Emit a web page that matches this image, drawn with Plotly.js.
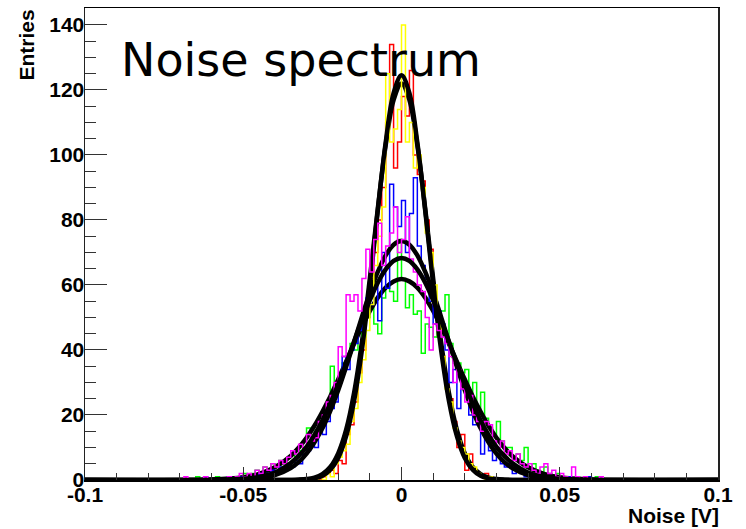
<!DOCTYPE html>
<html>
<head>
<meta charset="utf-8">
<script src="https://cdn.plot.ly/plotly-3.0.1.min.js"></script>
<style>html,body{margin:0;padding:0;background:#fff;}#chart{width:746px;height:529px;}</style>
</head>
<body>
<div id="chart"></div>
<script>
// ---- data ----
const BIN = 0.00125;
const narrowStart = -0.03;   // first bin edge of the narrow (red, yellow) histograms
const wideStart = -0.07;     // first bin edge of the wide (green, blue, magenta) histograms

const redCounts = [0,0,1,0,1,2,3,2,6,5,14,17,24,33,40,50,62,70,80,90,110,134,96,104,
  118,112,126,100,94,92,80,71,52,44,38,30,25,18,10,14,3,8,3,2,1,2,1,0];
const yellowCounts = [0,0,0,1,0,2,1,5,7,9,11,18,22,30,37,46,54,66,75,84,125,104,108,114,
  140,104,110,96,100,90,76,70,60,48,38,28,24,16,12,10,8,5,4,2,1,0,1,0];
const blueCounts = [0,0,0,0,0,0,1,0, 0,0,0,0,1,0,0,1, 0,0,1,0,2,1,2,3, 2,4,3,5,4,6,5,8,
  9,11,10,15,14,18,22,24, 30,38,34,40,42,46,50,56, 54,60,49,70,59,91,84,78,
  86,70,82,93,72,66,62,55, 48,52,48,40,30,34,22,28, 26,20,17,18,8,13,9,6,
  8,5,4,5,2,4,2,1, 2,1,0,1,0,1,0,0, 0,0,1,0,0,0,0,1, 0,0,0,0,0,0,0,0];
const magentaCounts = [0,1,0,0,0,0,1,0, 0,0,0,0,1,0,1,2, 1,2,1,3,2,4,3,5, 4,6,5,7,9,8,11,10,
  14,12,13,18,20,24,26,30, 41,38,57,55,57,52,62,71, 64,74,79,66,72,76,84,70,
  74,81,68,64,60,58,50,40, 48,46,44,42,38,30,34,28, 24,26,20,18,15,18,17,12,
  10,12,8,9,6,8,5,4, 5,3,2,4,5,2,3,1, 2,1,0,4,1,0,1,0, 0,0,1,0,0,0,0,0];
const greenCounts = [0,0,0,0,1,0,0,0, 0,1,0,0,0,1,0,1, 2,1,2,3,2,4,3,5, 4,6,5,7,8,7,9,12,
  16,13,15,19,18,24,35,28, 31,36,38,42,40,47,44,50, 53,48,45,56,60,58,55,74,
  62,53,57,51,52,39,48,47, 44,49,52,57,42,36,36,33, 34,26,30,22,27,19,16,14,
  18,12,10,10,7,8,6,10, 4,5,3,2,4,2,1,2, 1,0,1,0,1,0,0,0, 0,1,0,0,0,0,0,0];

const fitX = [-0.1,-0.06,-0.05,-0.045,-0.04,-0.035,-0.0325,-0.03,-0.0275,-0.025,-0.0225,-0.02,-0.0175,-0.015,-0.0125,-0.01,-0.0075,-0.005,-0.0025,
  0,0.0025,0.005,0.0075,0.01,0.0125,0.015,0.0175,0.02,0.0225,0.025,0.0275,0.03,0.0325,0.035,0.04,0.045,0.05,0.06,0.1];
const fitRed = [0,0,0,0,0,0.03,0.10,0.28,0.73,1.8,4.0,8.2,15.4,26.7,42.4,62.0,83.4,103.0,116.9,
  122,116.9,103.0,83.4,62.0,42.4,26.7,15.4,8.2,4.0,1.8,0.73,0.28,0.10,0.03,0,0,0,0,0];
const fitYellow = [0,0,0,0,0,0.02,0.06,0.18,0.51,1.3,3.2,6.8,13.5,24.3,40.1,60.2,82.8,103.8,119.0,
  124.5,119.0,103.8,82.8,60.2,40.1,24.3,13.5,6.8,3.2,1.3,0.51,0.18,0.06,0.02,0,0,0,0,0];
const fitBlue = [0,0.01,0.16,0.52,1.5,3.7,5.5,8.1,11.6,15.9,21.3,27.6,34.8,42.4,50.2,57.6,64.0,69.1,72.4,
  73.5,72.4,69.1,64.0,57.6,50.2,42.4,34.8,27.6,21.3,15.9,11.6,8.1,5.5,3.7,1.5,0.52,0.16,0.01,0];
const fitMagenta = [0,0.03,0.35,0.96,2.3,5.2,7.4,10.2,13.9,18.3,23.5,29.4,35.8,42.5,49.1,55.3,60.7,64.8,67.4,
  68.3,67.4,64.8,60.7,55.3,49.1,42.5,35.8,29.4,23.5,18.3,13.9,10.2,7.4,5.2,2.3,0.96,0.35,0.03,0];
const fitGreen = [0,0.12,0.82,1.9,3.9,7.4,9.9,13.0,16.7,21.0,25.7,30.9,36.4,41.9,47.2,52.0,56.1,59.2,61.1,
  61.8,61.1,59.2,56.1,52.0,47.2,41.9,36.4,30.9,25.7,21.0,16.7,13.0,9.9,7.4,3.9,1.9,0.82,0.12,0];

const xTickVals = [-0.1,-0.05,0,0.05,0.1];
const xTickText = ['-0.1','-0.05','0','0.05','0.1'];
const yTickVals = [0,20,40,60,80,100,120,140];
const yTickText = ['0','20','40','60','80','100','120','140'];

// ---- build histogram step traces ----
function histTrace(counts, start, color){
  const xs = [-0.1], ys = [0];
  for (let i = 0; i < counts.length; i++){ xs.push(start + i*BIN); ys.push(counts[i]); }
  xs.push(start + counts.length*BIN); ys.push(0);
  xs.push(0.1); ys.push(0);
  return {x: xs, y: ys, type:'scatter', mode:'lines', line:{shape:'hv', color: color, width: 1.5}, hoverinfo:'skip'};
}
function fitTrace(vals){
  return {x: fitX, y: vals, type:'scatter', mode:'lines', line:{shape:'spline', color:'black', width:4.5}, hoverinfo:'skip'};
}

const traces = [
  histTrace(redCounts, narrowStart, '#ff0000'), fitTrace(fitRed),
  histTrace(greenCounts, wideStart, '#00ff00'), fitTrace(fitGreen),
  histTrace(blueCounts, wideStart, '#0000ff'), fitTrace(fitBlue),
  histTrace(yellowCounts, narrowStart, '#ffff00'), fitTrace(fitYellow),
  histTrace(magentaCounts, wideStart, '#ff00ff'), fitTrace(fitMagenta)
];

const tickFont = {family:'Liberation Sans, Arial, sans-serif', size:21, color:'black', weight:'bold'};
const layout = {
  width:746, height:529,
  margin:{l:85, r:28, t:8, b:49},
  paper_bgcolor:'white', plot_bgcolor:'white',
  showlegend:false,
  font:{family:'Liberation Sans, Arial, sans-serif', color:'black'},
  xaxis:{range:[-0.1,0.1], tickmode:'array', tickvals:xTickVals, ticktext:xTickText,
    ticks:'inside', ticklen:13, tickwidth:1, tickcolor:'#333',
    showgrid:false, zeroline:false, showline:true, mirror:true, linecolor:'black', linewidth:1.5,
    tickfont:tickFont, ticklabelstandoff:-5,
    minor:{tickmode:'linear', tick0:0, dtick:0.01, ticks:'inside', ticklen:7, tickwidth:1, tickcolor:'#333', showgrid:false}},
  yaxis:{range:[0,145.2], tickmode:'array', tickvals:yTickVals, ticktext:yTickText,
    ticks:'inside', ticklen:22, tickwidth:1, tickcolor:'#333',
    showgrid:false, zeroline:false, showline:true, mirror:true, linecolor:'#222', linewidth:1.5,
    tickfont:tickFont, ticklabelstandoff:-5,
    minor:{tickmode:'linear', tick0:0, dtick:5, ticks:'inside', ticklen:11, tickwidth:1, tickcolor:'#333', showgrid:false}},
  annotations:[
    {text:'Noise spectrum', xref:'paper', yref:'paper', x:(119-85)/633, y:1-(31-8)/472, xanchor:'left', yanchor:'top',
     showarrow:false, font:{family:'DejaVu Sans, Verdana, sans-serif', size:46, color:'black'}},
    {text:'Entries', xref:'paper', yref:'paper', x:(26-85)/633, y:1, xanchor:'center', yanchor:'top', textangle:-90,
     showarrow:false, font:{family:'Liberation Sans, Arial, sans-serif', size:21, color:'black', weight:'bold'}},
    {text:'Noise [V]', xref:'paper', yref:'paper', x:(721-85)/633, y:-(529-480)/472, xanchor:'right', yanchor:'bottom',
     showarrow:false, font:{family:'Liberation Sans, Arial, sans-serif', size:21, color:'black', weight:'bold'}}
  ]
};

Plotly.newPlot('chart', traces, layout, {displayModeBar:false, staticPlot:true});
</script>
</body>
</html>
